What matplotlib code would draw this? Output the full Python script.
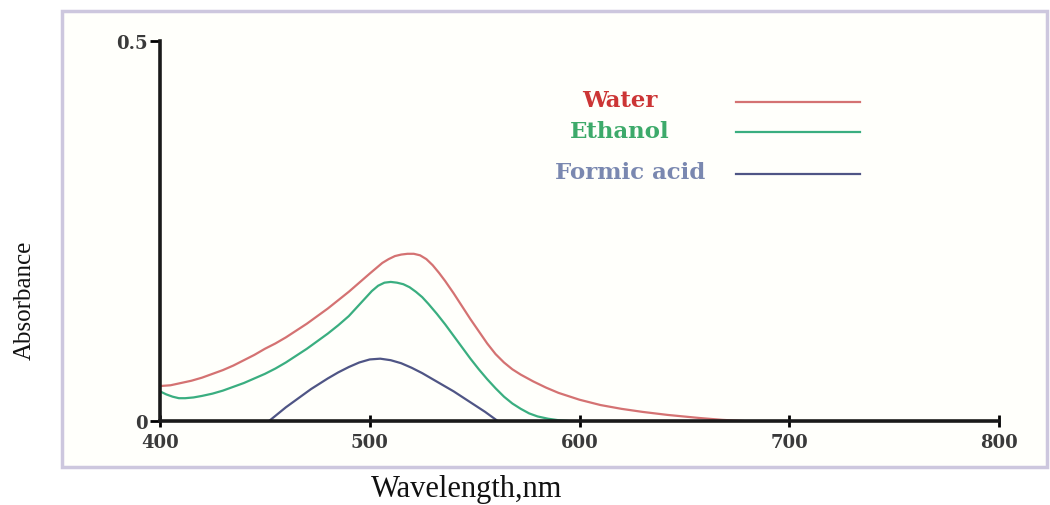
import matplotlib
matplotlib.use("Agg")
import matplotlib.pyplot as plt
from matplotlib.patches import Rectangle

# wavelength (nm) / absorbance
water_nm = [400, 405, 410, 415, 420, 425, 430, 435, 440, 445, 450, 455, 460, 465, 470,
            475, 480, 485, 490, 495, 500, 503, 506, 509, 512, 515, 518, 521, 524, 527,
            530, 533, 536, 540, 544, 548, 552, 556, 560, 564, 568, 572, 578, 584, 590,
            600, 610, 620, 630, 642, 657, 668, 678]
water_abs = [0.046, 0.047, 0.050, 0.053, 0.057, 0.062, 0.067, 0.073, 0.080, 0.087, 0.095,
             0.102, 0.110, 0.119, 0.128, 0.138, 0.148, 0.159, 0.170, 0.182, 0.194, 0.201,
             0.208, 0.213, 0.217, 0.219, 0.220, 0.220, 0.218, 0.213, 0.205, 0.195, 0.184,
             0.168, 0.151, 0.134, 0.118, 0.102, 0.088, 0.077, 0.068, 0.061, 0.052, 0.044,
             0.037, 0.028, 0.021, 0.016, 0.012, 0.008, 0.004, 0.0015, 0.0]

ethanol_nm = [400, 403, 406, 409, 412, 416, 420, 425, 430, 435, 440, 445, 450, 455, 460,
              465, 470, 475, 480, 485, 490, 494, 498, 501, 504, 507, 510, 513, 516, 519,
              522, 525, 528, 532, 536, 540, 544, 548, 552, 556, 560, 564, 568, 572, 576,
              580, 585, 590, 595]
ethanol_abs = [0.039, 0.035, 0.032, 0.030, 0.030, 0.031, 0.033, 0.036, 0.040, 0.045, 0.050,
               0.056, 0.062, 0.069, 0.077, 0.086, 0.095, 0.105, 0.115, 0.126, 0.138, 0.150,
               0.162, 0.171, 0.178, 0.182, 0.183, 0.182, 0.180, 0.176, 0.170, 0.163, 0.154,
               0.141, 0.127, 0.112, 0.097, 0.082, 0.068, 0.055, 0.043, 0.032, 0.023, 0.016,
               0.010, 0.006, 0.003, 0.001, 0.0]

formic_nm = [452, 456, 460, 464, 468, 472, 476, 480, 485, 490, 495, 500, 505, 510, 515,
             520, 525, 530, 535, 540, 545, 550, 555, 561]
formic_abs = [0.0, 0.009, 0.018, 0.026, 0.034, 0.042, 0.049, 0.056, 0.064, 0.071, 0.077,
              0.081, 0.082, 0.080, 0.076, 0.070, 0.063, 0.055, 0.047, 0.039, 0.030, 0.021,
              0.012, 0.0]

x_ticks = [400, 500, 600, 700, 800]
y_ticks = [0, 0.5]
y_tick_labels = ["0", "0.5"]

W, H = 1050, 506
fig = plt.figure(figsize=(W / 100, H / 100), dpi=100)

# panel frame, kept behind the axes
fig.patches.append(Rectangle((62 / W, 1 - 468 / H), 985 / W, 456 / H,
                             transform=fig.transFigure, facecolor="#fffffb",
                             edgecolor="#cdc7de", linewidth=2.5, zorder=-10))

ax = fig.add_axes([160 / W, 1 - 422 / H, 839 / W, 380 / H])
ax.patch.set_alpha(0)

ax.plot(water_nm, water_abs, color="#d47272", lw=1.6)
ax.plot(ethanol_nm, ethanol_abs, color="#3aae80", lw=1.6)
ax.plot(formic_nm, formic_abs, color="#4f5585", lw=1.6)

ax.set_xlim(400, 800)
ax.set_ylim(0, 0.5)
for s in ["top", "right"]:
    ax.spines[s].set_visible(False)
for s in ["left", "bottom"]:
    ax.spines[s].set_linewidth(2.6)
    ax.spines[s].set_color("#1a1a1a")

ax.set_xticks(x_ticks)
ax.set_xticklabels([str(t) for t in x_ticks])
ax.set_yticks(y_ticks)
ax.set_yticklabels(y_tick_labels)
ax.tick_params(axis="x", direction="inout", length=8, width=2, pad=5)
ax.tick_params(axis="y", direction="out", length=7, width=2, pad=2)
for lab in ax.get_xticklabels() + ax.get_yticklabels():
    lab.set_fontfamily("DejaVu Serif")
    lab.set_fontweight("bold")
    lab.set_fontsize(13)
    lab.set_color("#3a3a3a")

# legend drawn by hand: label text, then a short line to its right
legend = [("Water", "#cc3535", "#d47272", 0.548, 0.845, 0.840),
          ("Ethanol", "#3daa6a", "#3aae80", 0.548, 0.763, 0.761),
          ("Formic acid", "#7a88b0", "#4f5585", 0.560, 0.655, 0.650)]
for name, tcol, lcol, tx, ty, ly in legend:
    ax.text(tx, ty, name, transform=ax.transAxes, ha="center", va="center",
            fontfamily="DejaVu Serif", fontweight="bold", fontsize=16.5, color=tcol)
    ax.plot([0.687, 0.834], [ly, ly], transform=ax.transAxes, color=lcol, lw=1.6)

fig.text(25 / W, 1 - 300 / H, "Absorbance", rotation=90, ha="center", va="center",
         fontfamily="Liberation Serif", fontsize=18, color="#111111")
fig.text(467 / W, 1 - 490 / H, "Wavelength,nm", ha="center", va="center",
         fontfamily="Liberation Serif", fontsize=22, color="#111111")

fig.savefig("out.png", dpi=100)
